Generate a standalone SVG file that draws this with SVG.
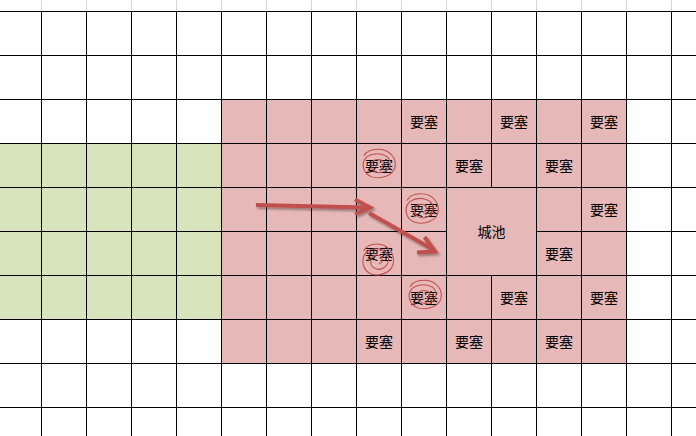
<svg xmlns="http://www.w3.org/2000/svg" width="696" height="436" viewBox="0 0 696 436">
<defs>
<style>
.g{stroke:#000;stroke-width:1;fill:none}
.lg{stroke:#d6d6d6;stroke-width:1}
.t{font-family:"Noto Sans CJK SC","Noto Sans CJK JP",sans-serif;font-size:14px;fill:#000;text-anchor:middle}
.sp{fill:none;stroke:#c0504d;stroke-width:1.1}
.ar{fill:none;stroke:#c0504d;stroke-width:4;stroke-linecap:butt;stroke-linejoin:miter}
</style>
<filter id="sh" x="-20%" y="-50%" width="140%" height="200%">
<feDropShadow dx="1.5" dy="2" stdDeviation="1.2" flood-color="#000" flood-opacity="0.35"/>
</filter>
<path id="spiral" d="M 2,4 C 7,2 7,-5 0,-5 C -7,-5 -9,4 -3,8 C 4,12 13,6 12,-2 C 11,-11 -2,-14 -11,-8 C -18,-1 -15,11 -6,14 C 4,17 15,12 17,4 C 19,-6 12,-16 0,-16 C -7,-16 -12,-13 -14,-9"/>
</defs>
<rect x="0" y="0" width="696" height="436" fill="#fff"/>
<g id="fills">
<rect x="222" y="100" width="405" height="264" fill="#e6b8b7"/>
<rect x="0" y="144" width="222" height="176" fill="#d8e4bc"/>
</g>
<g id="grid">
<g class="lg">
<line x1="41.5" y1="0" x2="41.5" y2="11"/><line x1="86.5" y1="0" x2="86.5" y2="11"/><line x1="131.5" y1="0" x2="131.5" y2="11"/><line x1="176.5" y1="0" x2="176.5" y2="11"/><line x1="221.5" y1="0" x2="221.5" y2="11"/><line x1="266.5" y1="0" x2="266.5" y2="11"/><line x1="311.5" y1="0" x2="311.5" y2="11"/><line x1="356.5" y1="0" x2="356.5" y2="11"/><line x1="401.5" y1="0" x2="401.5" y2="11"/><line x1="446.5" y1="0" x2="446.5" y2="11"/><line x1="491.5" y1="0" x2="491.5" y2="11"/><line x1="536.5" y1="0" x2="536.5" y2="11"/><line x1="581.5" y1="0" x2="581.5" y2="11"/><line x1="626.5" y1="0" x2="626.5" y2="11"/><line x1="671.5" y1="0" x2="671.5" y2="11"/>
</g>
<path class="g" d="M0,11.5H696M0,55.5H696M0,99.5H696M0,143.5H696M0,187.5H696M0,231.5H446.5M536.5,231.5H696M0,275.5H696M0,319.5H696M0,363.5H696M0,407.5H696
M41.5,11V436M86.5,11V436M131.5,11V436M176.5,11V436M221.5,11V436M266.5,11V436M311.5,11V436M356.5,11V436M401.5,11V436M446.5,11V436M491.5,11V187.5M491.5,275.5V436M536.5,11V436M581.5,11V436M626.5,11V436M671.5,11V436"/>
</g>
<g id="nodes">
<g id="fort-r2c9"><text class="t" x="424" y="127">要塞</text></g>
<g id="fort-r2c11"><text class="t" x="514" y="127">要塞</text></g>
<g id="fort-r2c13"><text class="t" x="604" y="127">要塞</text></g>
<g id="fort-r3c8"><text class="t" x="379" y="171">要塞</text><use href="#spiral" class="sp" transform="translate(378,164) scale(1,0.92)"/></g>
<g id="fort-r3c10"><text class="t" x="469" y="171">要塞</text></g>
<g id="fort-r3c12"><text class="t" x="559" y="171">要塞</text></g>
<g id="fort-r4c9"><text class="t" x="424" y="215">要塞</text><use href="#spiral" class="sp" transform="translate(421,209) scale(1,0.95)"/></g>
<g id="city"><text class="t" x="491.5" y="237">城池</text></g>
<g id="fort-r4c13"><text class="t" x="604" y="215">要塞</text></g>
<g id="fort-r5c8"><text class="t" x="379" y="259">要塞</text><use href="#spiral" class="sp" transform="translate(377,260) scale(0.95,1)"/></g>
<g id="fort-r5c12"><text class="t" x="559" y="259">要塞</text></g>
<g id="fort-r6c9"><text class="t" x="424" y="303">要塞</text><use href="#spiral" class="sp" transform="translate(424,295) scale(1,0.92)"/></g>
<g id="fort-r6c11"><text class="t" x="514" y="303">要塞</text></g>
<g id="fort-r6c13"><text class="t" x="604" y="303">要塞</text></g>
<g id="fort-r7c8"><text class="t" x="379" y="347">要塞</text></g>
<g id="fort-r7c10"><text class="t" x="469" y="347">要塞</text></g>
<g id="fort-r7c12"><text class="t" x="559" y="347">要塞</text></g>
</g>
<g id="connectors" filter="url(#sh)">
<path class="ar" d="M256,205 L368,207.5"/>
<path class="ar" d="M355,199.5 L370,207.5 L355,214"/>
<path class="ar" d="M369,213 L433,249.5"/>
<path class="ar" d="M424.5,237 L435,251.5 L417,252.5"/>
</g>
</svg>
